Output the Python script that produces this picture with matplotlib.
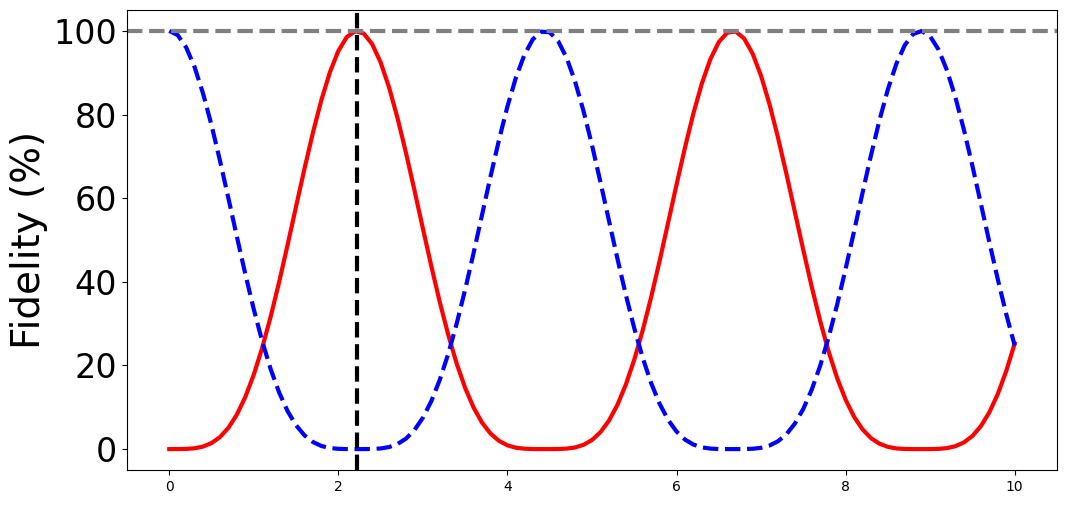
import matplotlib
matplotlib.use("Agg")
import matplotlib.pyplot as plt

t = [round(0.1 * k, 1) for k in range(101)]

red = [0.00, 0.00, 0.04, 0.20, 0.61, 1.44, 2.87, 5.09, 8.25, 12.47,
       17.81, 24.25, 31.69, 39.97, 48.85, 58.00, 67.08, 75.71, 83.50, 90.10,
       95.20, 98.53, 99.95, 99.38, 96.85, 92.49, 86.50, 79.17, 70.86, 61.92,
       52.76, 43.72, 35.15, 27.33, 20.44, 14.63, 9.93, 6.32, 3.72, 1.97,
       0.90, 0.33, 0.09, 0.01, 0.00, 0.00, 0.02, 0.11, 0.39, 1.02,
       2.17, 4.03, 6.77, 10.53, 15.39, 21.36, 28.39, 36.33, 44.99, 54.06,
       63.22, 72.09, 80.29, 87.44, 93.21, 97.33, 99.59, 99.87, 98.17, 94.57,
       89.25, 82.46, 74.52, 65.81, 56.69, 47.56, 38.75, 30.58, 23.27, 16.98,
       11.81, 7.74, 4.72, 2.62, 1.29, 0.53, 0.16, 0.03, 0.00, 0.00,
       0.00, 0.05, 0.24, 0.70, 1.60, 3.14, 5.48, 8.79, 13.17, 18.66,
       25.25]

blue = [100.00, 99.00, 96.07, 91.33, 85.03, 77.46, 68.98, 59.96, 50.80, 41.84,
        33.41, 25.76, 19.10, 13.52, 9.07, 5.69, 3.28, 1.69, 0.74, 0.26,
        0.06, 0.01, 0.00, 0.00, 0.03, 0.15, 0.49, 1.21, 2.50, 4.54,
        7.49, 11.48, 16.57, 22.78, 30.02, 38.14, 46.91, 56.03, 65.16, 73.91,
        81.92, 88.80, 94.24, 97.98, 99.82, 99.67, 97.56, 93.57, 87.91, 80.84,
        72.71, 63.87, 54.72, 45.63, 36.94, 28.93, 21.83, 15.78, 10.84, 7.01,
        4.20, 2.28, 1.08, 0.42, 0.12, 0.02, 0.00, 0.00, 0.01, 0.08,
        0.31, 0.85, 1.87, 3.56, 6.10, 9.63, 14.25, 19.98, 26.80, 34.56,
        43.09, 52.10, 61.27, 70.23, 78.60, 86.01, 92.11, 96.60, 99.27, 99.98,
        98.70, 95.50, 90.52, 84.02, 76.30, 67.72, 58.66, 49.50, 40.60, 32.26,
        24.75]

target_level = 100
marker_time = 2.2214

fig = plt.figure(figsize=(10.67, 5.05), dpi=100)
ax = fig.add_axes([0.119, 0.0693, 0.8716, 0.9109])

ax.plot(t, red, color="red", linewidth=3)
ax.plot(t, blue, color="blue", linewidth=3, linestyle="--")
ax.axhline(target_level, color="gray", linewidth=3, linestyle="--")
ax.axvline(marker_time, color="black", linewidth=3, linestyle="--")

ax.set_ylabel("Fidelity (%)", fontsize=28)
ax.tick_params(axis="y", labelsize=24)
ax.tick_params(axis="x", labelsize=10)

fig.savefig("out.png", dpi=100)
